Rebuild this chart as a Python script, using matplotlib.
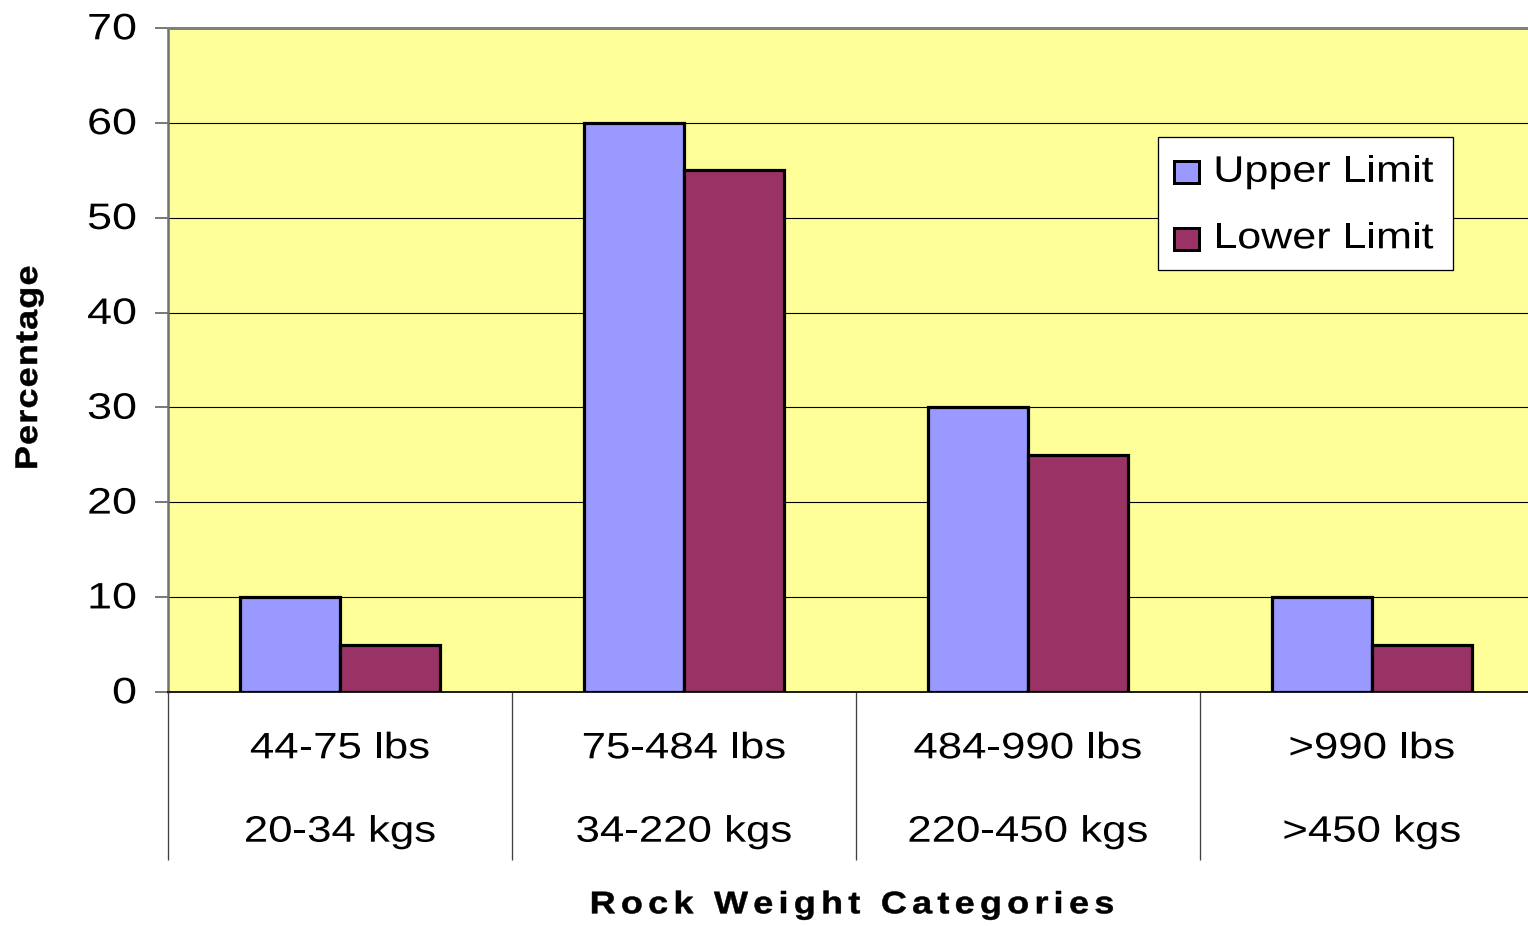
import numpy as np
import matplotlib
matplotlib.use("Agg")
import matplotlib.pyplot as plt
import matplotlib.transforms as mtransforms
from matplotlib.font_manager import FontProperties, findfont
from matplotlib.ft2font import FT2Font
from matplotlib.patches import Rectangle
from matplotlib.patheffects import AbstractPathEffect

# ---- data -------------------------------------------------------------
categories_lbs = ["44-75 lbs", "75-484 lbs", "484-990 lbs", ">990 lbs"]
categories_kgs = ["20-34 kgs", "34-220 kgs", "220-450 kgs", ">450 kgs"]
upper_limit = [10, 60, 30, 10]
lower_limit = [5, 55, 25, 5]
series_names = ["Upper Limit", "Lower Limit"]
y_ticks = [0, 10, 20, 30, 40, 50, 60, 70]
x_title = "Rock Weight Categories"
y_title = "Percentage"

# ---- style ------------------------------------------------------------
UPPER_COLOR = "#9999FF"
LOWER_COLOR = "#993366"
PLOT_BG = "#FFFF99"
FONT = "Liberation Sans"

DPI = 100
W, H = 1528, 926
fig = plt.figure(figsize=(W / DPI, H / DPI), dpi=DPI)


def px(v):
    """pixels -> points"""
    return v * 72.0 / DPI


class Stretch(AbstractPathEffect):
    """Widen glyphs along the baseline by a factor sx (optionally outlined)."""

    def __init__(self, sx, stroke=0.0):
        super().__init__()
        self.sx = sx
        self.stroke = stroke

    def draw_path(self, renderer, gc, tpath, affine, rgbFace=None):
        gc0 = renderer.new_gc()
        gc0.copy_properties(gc)
        if self.stroke > 0:
            gc0.set_linewidth(self.stroke)
            gc0.set_foreground(rgbFace)
            gc0.set_joinstyle("round")
        renderer.draw_path(gc0, tpath,
                           mtransforms.Affine2D().scale(self.sx, 1.0) + affine,
                           rgbFace)
        gc0.restore()


def advances(s, prop):
    font = FT2Font(findfont(prop))
    font.set_size(prop.get_size_in_points(), 72)
    return [font.load_char(ord(ch)).linearHoriAdvance / 65536.0 for ch in s]


def wide_text(x, y, s, transform, size, weight="normal", sx=1.2, track=0.0,
              ha="center", rotation=0, dx=0.0, dy=0.0, zorder=3, stroke=0.0):
    """Draw a string with widened glyphs and optional extra letter spacing."""
    prop = FontProperties(family=FONT, size=size, weight=weight)
    adv = [a * sx for a in advances(s, prop)]
    total = sum(adv) + track * (len(s) - 1)
    start = {"left": 0.0, "center": -total / 2.0, "right": -total}[ha]
    ang = np.deg2rad(rotation)
    ux, uy = np.cos(ang), np.sin(ang)
    pos = start
    effect = [Stretch(sx, stroke)]
    for ch, a in zip(s, adv):
        if ch != " ":
            tr = mtransforms.offset_copy(transform, fig=fig,
                                         x=dx + pos * ux, y=dy + pos * uy,
                                         units="points")
            fig.text(x, y, ch, transform=tr, fontproperties=prop,
                     ha="left", va="baseline", rotation=rotation,
                     rotation_mode="anchor", color="black", zorder=zorder,
                     path_effects=effect)
        pos += a + track


# ---- axes -------------------------------------------------------------
ax = fig.add_axes([168 / W, 1 - 692 / H, (1543.75 - 168) / W, (692 - 28) / H])
ax.set_facecolor(PLOT_BG)

x = np.arange(len(categories_lbs))
bw = 0.29
ax.bar(x - bw / 2, upper_limit, bw, color=UPPER_COLOR, edgecolor="black",
       linewidth=2.3, zorder=3)
ax.bar(x + bw / 2, lower_limit, bw, color=LOWER_COLOR, edgecolor="black",
       linewidth=2.3, zorder=3)

ax.set_xlim(-0.5, len(x) - 0.5)
ax.set_ylim(0, 70)
ax.set_yticks(y_ticks)
ax.set_yticklabels([])
ax.yaxis.grid(True, color="black", linewidth=0.8)
ax.set_axisbelow(True)

ax.set_xticks(x)
ax.set_xticklabels([])
ax.tick_params(axis="x", which="major", length=0)
ax.set_xticks(np.arange(-0.5, len(x), 1.0), minor=True)
ax.tick_params(axis="x", which="minor", length=px(168), width=px(1.3),
               color="#404040", direction="out")
ax.tick_params(axis="y", length=px(13), width=px(1.5), color="#505050",
               direction="out")

for side in ["top", "right"]:
    ax.spines[side].set_color("#808080")
    ax.spines[side].set_linewidth(px(3))
ax.spines["left"].set_color("#707070")
ax.spines["left"].set_linewidth(px(2.5))
ax.spines["bottom"].set_color("#202020")
ax.spines["bottom"].set_linewidth(px(2))

# ---- tick labels ------------------------------------------------------
for v in y_ticks:
    wide_text(0, v, str(v), ax.get_yaxis_transform(), 26.5, sx=1.22,
              ha="right", dx=px(-31), dy=px(-11.3))

for i, (lbs, kgs) in enumerate(zip(categories_lbs, categories_kgs)):
    wide_text(x[i], 0, lbs, ax.get_xaxis_transform(), 26.5, sx=1.19,
              dy=px(-66.3))
    wide_text(x[i], 0, kgs, ax.get_xaxis_transform(), 26.5, sx=1.19,
              dy=px(-149.7))

# ---- axis titles ------------------------------------------------------
wide_text(852 / W, 1 - 913.3 / H, x_title, fig.transFigure, 22.5,
          weight="bold", sx=1.15, track=px(5.3), stroke=0.35)
wide_text(37 / W, 1 - 367.8 / H, y_title, fig.transFigure, 22.5,
          weight="bold", sx=1.15, track=px(1.2), rotation=90, stroke=0.35)

# ---- legend -----------------------------------------------------------
fig.add_artist(Rectangle((1158 / W, 1 - 270 / H), 295 / W, 133 / H,
                         transform=fig.transFigure, facecolor="white",
                         edgecolor="black", linewidth=px(1.3), zorder=5))
legend_rows = [(UPPER_COLOR, 183, 181.7), (LOWER_COLOR, 250, 248.3)]
for name, (col, box_bottom, baseline) in zip(series_names, legend_rows):
    fig.add_artist(Rectangle((1174 / W, 1 - box_bottom / H), 25 / W, 22 / H,
                             transform=fig.transFigure, facecolor=col,
                             edgecolor="black", linewidth=px(3), zorder=6))
    wide_text(1213.3 / W, 1 - baseline / H, name, fig.transFigure, 26.5,
              sx=1.17, ha="left", zorder=7)

fig.savefig("out.png", dpi=DPI, facecolor="white")
